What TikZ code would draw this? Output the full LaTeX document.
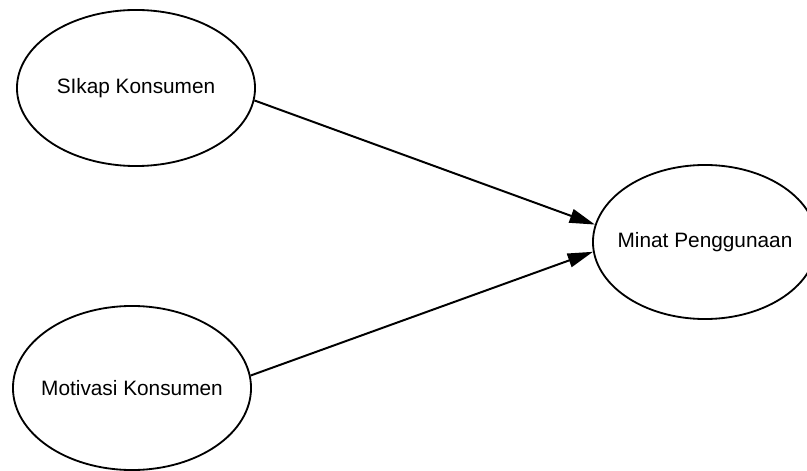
\documentclass[tikz,border=0pt]{standalone}
\usepackage{fontspec}
\setmainfont{Liberation Sans}
\usepackage{tikz}
\usetikzlibrary{shapes.geometric,arrows.meta}

\begin{document}
\begin{tikzpicture}[x=0.025cm, y=-0.025cm,
    var/.style={draw, ellipse, line width=1.3pt, inner ysep=0pt, inner xsep=-0.4cm,
        font=\fontsize{14.8}{17}\selectfont},
    path/.style={-{Triangle[length=18pt, width=10pt]}, line width=1.4pt}]
    \useasboundingbox (0,0) rectangle (807,471);
    \node[var, minimum width=5.95cm, minimum height=3.9cm] (sikap) at (136,88) {SIkap Konsumen};
    \node[var, minimum width=5.95cm, minimum height=4.1cm] (motivasi) at (132,388) {Motivasi Konsumen};
    \node[var, minimum width=5.6cm, minimum height=3.85cm] (minat) at (705,242) {Minat Penggunaan};
    \draw[path] (sikap.-6.7) -- (minat.171);
    \draw[path] (motivasi.6.3) -- (minat.185.6);
\end{tikzpicture}
\end{document}
